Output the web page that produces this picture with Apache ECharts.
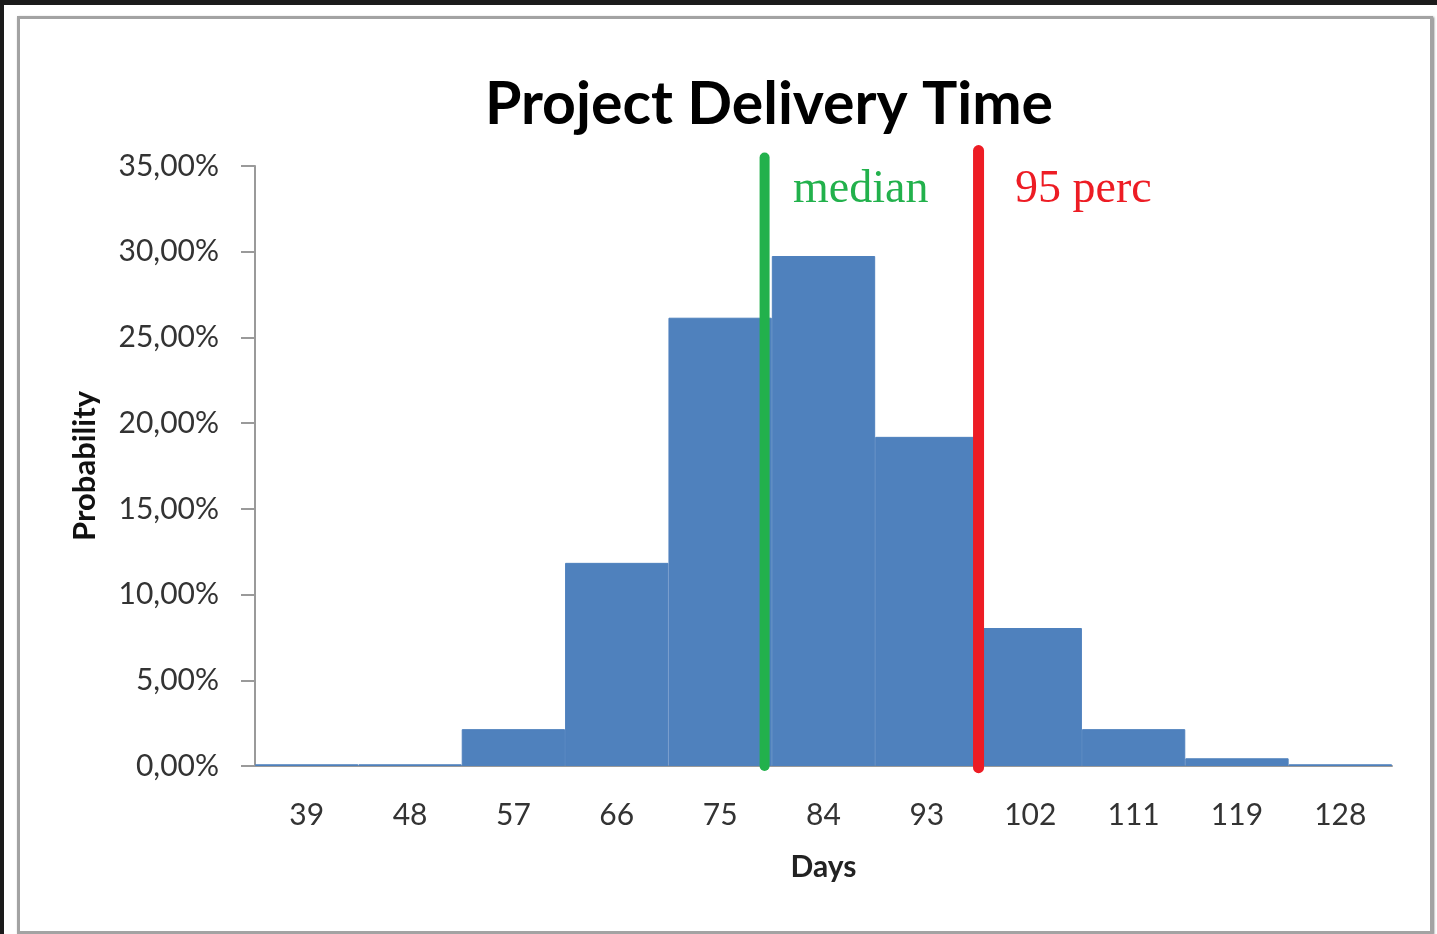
<!DOCTYPE html>
<html>
<head>
<meta charset="utf-8">
<script src="https://cdn.jsdelivr.net/npm/echarts@6/dist/echarts.min.js"></script>
<style>
  html, body { margin: 0; padding: 0; background: #fff; }
  #stripTop { position: absolute; left: 0; top: 0; width: 1437px; height: 5px; background: #1b1b1b; }
  #stripLeft { position: absolute; left: 0; top: 0; width: 4px; height: 934px; background: #1b1b1b; }
  #frame {
    position: absolute; left: 17px; top: 16px; width: 1410px; height: 912px;
    border: 3px solid #a3a3a3; box-shadow: 1px 1px 2px #777;
  }
  #main { position: absolute; left: 0; top: 0; width: 1437px; height: 934px; }
</style>
</head>
<body>
<div id="stripTop"></div>
<div id="stripLeft"></div>
<div id="frame"></div>
<div id="main"></div>
<script>
// histogram bins (days) and probability in %
var days = ['39', '48', '57', '66', '75', '84', '93', '102', '111', '119', '128']
var probability = [0.1, 0.1, 2.15, 11.85, 26.15, 29.75, 19.2, 8.05, 2.15, 0.45, 0.1]

// vertical markers, x in bin units (0 = left edge of first bin), y in %
var medianLine = [[4.93, 35.5], [4.93, 0.0]]
var percLine = [[7.0, 35.9], [7.0, -0.1]]

var axisFont = 'Lato, "Open Sans", sans-serif'

var myChart = echarts.init(document.getElementById('main'))

var option = {
  animation: false,
  title: {
    text: 'Project Delivery Time',
    left: 764,
    textAlign: 'center',
    top: 70,
    textStyle: { fontFamily: axisFont, fontWeight: 'bold', fontSize: 59, color: '#000' }
  },
  grid: { left: 255, right: 45, top: 166, bottom: 168 },
  xAxis: [
    {
      type: 'category',
      data: days,
      name: 'Days',
      nameLocation: 'middle',
      nameGap: 86,
      nameTextStyle: { fontFamily: axisFont, fontWeight: 'bold', fontSize: 30, color: '#222' },
      axisTick: { show: false },
      axisLine: { lineStyle: { color: '#9a9a9a', width: 2 } },
      axisLabel: { margin: 34, fontFamily: axisFont, fontSize: 30, color: '#333' }
    },
    { type: 'value', min: 0, max: 11, show: false }
  ],
  yAxis: [
    {
      type: 'value',
      min: 0,
      max: 35,
      interval: 5,
      name: 'Probability',
      nameLocation: 'middle',
      nameGap: 155,
      nameTextStyle: { fontFamily: axisFont, fontWeight: 'bold', fontSize: 31, color: '#111' },
      splitLine: { show: false },
      axisLine: { show: true, lineStyle: { color: '#9a9a9a', width: 2 } },
      axisTick: { show: true, length: 14, lineStyle: { color: '#9a9a9a', width: 2 } },
      axisLabel: {
        margin: 36,
        fontFamily: axisFont,
        fontSize: 30,
        color: '#333',
        formatter: function (v) { return v.toFixed(2).replace('.', ',') + '%' }
      }
    },
    { type: 'value', min: 0, max: 35, show: false }
  ],
  series: [
    {
      type: 'bar',
      data: probability,
      barCategoryGap: '0%',
      itemStyle: { color: '#4f81bd', borderColor: '#4f81bd', borderWidth: 1 }
    },
    {
      type: 'line',
      xAxisIndex: 1,
      yAxisIndex: 1,
      data: medianLine,
      clip: false,
      symbol: 'none',
      lineStyle: { color: '#22b14c', width: 10, cap: 'round' }
    },
    {
      type: 'line',
      xAxisIndex: 1,
      yAxisIndex: 1,
      data: percLine,
      clip: false,
      symbol: 'none',
      lineStyle: { color: '#ed1c24', width: 11, cap: 'round' }
    }
  ],
  graphic: [
    {
      type: 'text',
      left: 793,
      top: 167,
      style: { text: 'median', font: '46px "Liberation Serif", serif', fill: '#22b14c' }
    },
    {
      type: 'text',
      left: 1015,
      top: 167,
      style: { text: '95 perc', font: '46px "Liberation Serif", serif', fill: '#ed1c24' }
    }
  ]
}

myChart.setOption(option)
</script>
</body>
</html>
